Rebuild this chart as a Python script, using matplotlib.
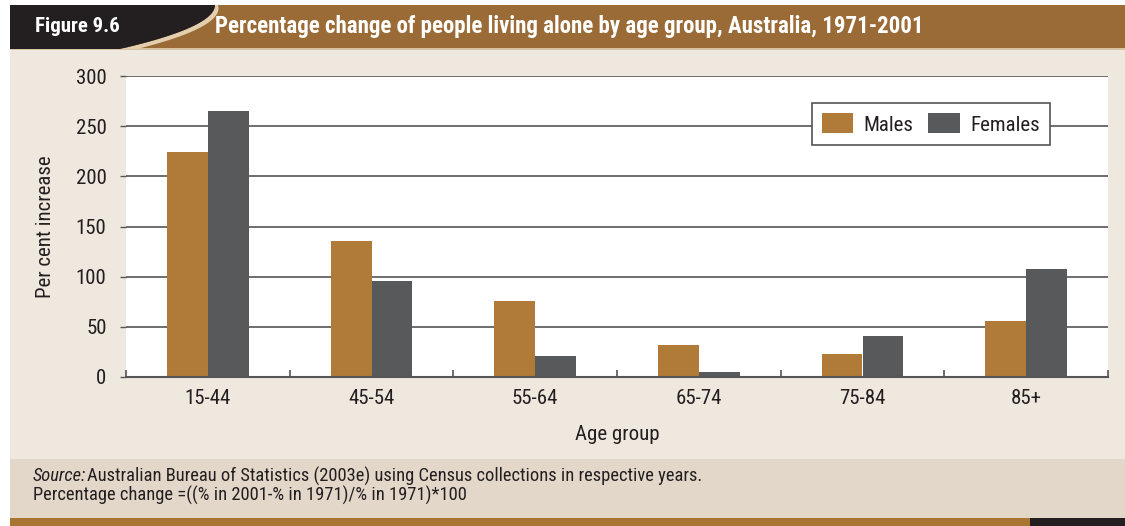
import matplotlib
matplotlib.use("Agg")
import matplotlib.pyplot as plt
from matplotlib.patches import Rectangle, Polygon
from matplotlib import font_manager
import numpy as np

categories = ["15-44", "45-54", "55-64", "65-74", "75-84", "85+"]
males = [224, 136, 76, 32, 23, 56]
females = [265, 96, 21, 5, 41, 108]
yticks = [0, 50, 100, 150, 200, 250, 300]

names = {f.name for f in font_manager.fontManager.ttflist}
font = "Liberation Sans"
for cand in ["Roboto Condensed", "Archivo Narrow", "Liberation Sans Narrow", "Sofia Sans Condensed"]:
    if cand in names:
        font = cand
        break
plt.rcParams["font.family"] = [font, "DejaVu Sans"]

W, H = 1125, 526
fig = plt.figure(figsize=(W / 100, H / 100), dpi=100)
fig.patch.set_facecolor("white")

def px(x, y, w, h, color, z=-10):
    fig.patches.append(Rectangle((x / W, 1 - (y + h) / H), w / W, h / H,
                                 transform=fig.transFigure, color=color, zorder=z, lw=0))

CREAM = "#efe8df"
FOOT = "#e2d7c8"
BROWN = "#9a6b36"
BLACK = "#231f20"

px(10, 49, 1115, 410, CREAM)
px(10, 459, 1115, 59, FOOT)
px(10, 518, 1020, 8, "#a87533")
px(1030, 518, 95, 8, BLACK)
# header
px(10, 5, 1115, 44, BROWN)
px(10, 48, 1115, 2, "#d9c3a3")
t = np.linspace(0, 1, 40)
cx = 120 + 95 * (1 - (1 - t) ** 2)
cy = 49 - 44 * t
pts_black = [(10, 5), (10, 49)] + [(cx[i], cy[i]) for i in range(len(t))] + [(215, 5)]
pts_beige = [(cx[i], cy[i]) for i in range(len(t))] + \
            [(cx[i] + 17 * (1 - t[i]) + 3 * t[i], cy[i]) for i in range(len(t))][::-1]
def poly(pts, color):
    fig.patches.append(Polygon([(x / W, 1 - y / H) for x, y in pts], closed=True,
                               transform=fig.transFigure, color=color, lw=0, zorder=-5))
poly(pts_beige, "#e3cfae")
poly(pts_black, BLACK)

fig.text(35 / W, 1 - 27 / H, "Figure 9.6", color="white", fontsize=15,
         fontweight="bold", va="center", ha="left", zorder=5)
fig.text(215 / W, 1 - 27 / H, "Percentage change of people living alone by age group, Australia, 1971-2001",
         color="white", fontsize=16.5, fontweight="bold", va="center", ha="left", zorder=5)

ax = fig.add_axes([126 / W, (H - 377) / H, (1108 - 126) / W, (377 - 76) / H])
ax.set_facecolor("white")
x = np.arange(len(categories))
bw = 0.25
ax.bar(x - bw / 2, males, bw, color="#b07b39", label="Males", zorder=3)
ax.bar(x + bw / 2, females, bw, color="#58595b", label="Females", zorder=3)
ax.set_xlim(-0.5, len(categories) - 0.5)
ax.set_ylim(0, 300)
ax.set_yticks(yticks)
ax.set_yticklabels([str(v) for v in yticks], fontsize=15, color="#231f20")
ax.set_xticks(x)
ax.set_xticklabels(categories, fontsize=15, color="#231f20")
ax.tick_params(axis="x", length=0, pad=9)
ax.tick_params(axis="y", length=4, width=1, color="#555555", pad=10)
ax.set_xticks(np.arange(-0.5, len(categories), 1.0), minor=True)
ax.tick_params(axis="x", which="minor", direction="in", length=5, width=1.2, color="#555555")
ax.grid(axis="y", color="#555555", lw=1.2, zorder=1)
for s in ["top", "right", "left"]:
    ax.spines[s].set_visible(False)
ax.spines["bottom"].set_color("#555555")
ax.spines["bottom"].set_linewidth(1.5)
ax.spines["bottom"].set_zorder(4)
ax.set_ylabel("Per cent increase", fontsize=15, color="#231f20", labelpad=15)
ax.set_xlabel("Age group", fontsize=15, color="#231f20", labelpad=12)

leg = ax.legend(loc="upper right", bbox_to_anchor=(1050 / W, 1 - 103 / H), bbox_transform=fig.transFigure,
                ncol=2, frameon=True, fancybox=False, fontsize=15, handlelength=1.5, handleheight=1.1,
                columnspacing=0.7, handletextpad=0.5, borderpad=0.5, borderaxespad=0)
leg.get_frame().set_edgecolor("#555555")
leg.get_frame().set_linewidth(1.2)
leg.get_frame().set_facecolor("white")
leg.get_frame().set_alpha(1)
leg.set_zorder(10)
for txt in leg.get_texts():
    txt.set_color("#231f20")

fig.text(33 / W, 1 - 476 / H, "Source:", fontsize=13.3, style="italic", color="#231f20", va="center")
fig.text(87 / W, 1 - 476 / H, "Australian Bureau of Statistics (2003e) using Census collections in respective years.",
         fontsize=13.3, color="#231f20", va="center")
fig.text(33 / W, 1 - 495 / H, "Percentage change =((% in 2001-% in 1971)/% in 1971)*100",
         fontsize=13.3, color="#231f20", va="center")

fig.savefig("out.png", dpi=100, facecolor=fig.get_facecolor())
